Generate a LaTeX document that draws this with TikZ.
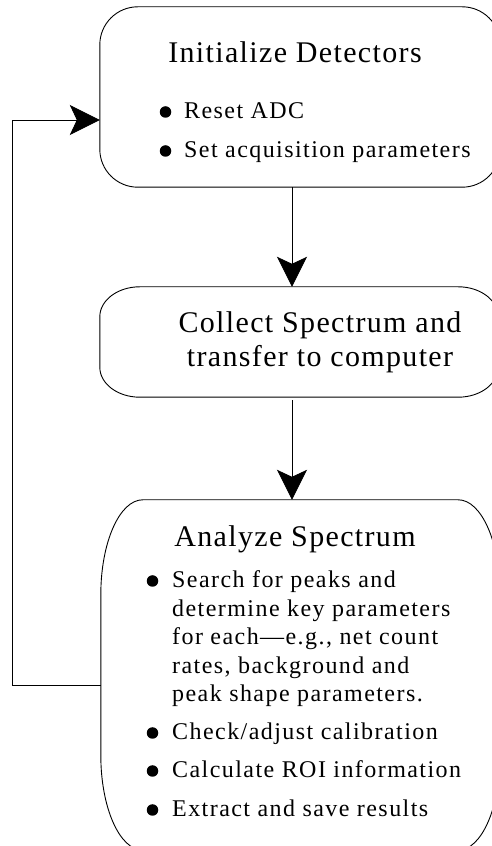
\documentclass[tikz,border=0pt]{standalone}
\usepackage{fontspec}
\setmainfont{Liberation Serif}
\newfontfamily\titlefont[LetterSpace=4.5]{Liberation Serif}
\newfontfamily\bodyfont[LetterSpace=6]{Liberation Serif}
\usetikzlibrary{arrows.meta}
\tikzset{
  boxline/.style={line width=0.9pt, black},
  flow/.style={line width=0.9pt, -{Stealth[length=30pt,width=30pt,inset=7pt]}},
  boxarea/.style={draw=none, rectangle, inner sep=0pt},
  titletext/.style={font=\titlefont\fontsize{30}{34}\selectfont, inner sep=0pt, anchor=base},
  itemtext/.style={font=\bodyfont\fontsize{24}{28.5}\selectfont, inner sep=0pt, anchor=base west, align=left},
  bulletdot/.style={circle, fill=black, inner sep=0pt, minimum size=11.5pt}
}
\newcommand\eboxoutline[3]{%
  \draw[boxline] ([xshift=#2]#1.north west) -- ([xshift=-#2]#1.north east)
    arc[start angle=90,end angle=0,x radius=#2,y radius=#3]
    -- ([yshift=#3]#1.south east)
    arc[start angle=0,end angle=-90,x radius=#2,y radius=#3]
    -- ([xshift=#2]#1.south west)
    arc[start angle=270,end angle=180,x radius=#2,y radius=#3]
    -- ([yshift=-#3]#1.north west)
    arc[start angle=180,end angle=90,x radius=#2,y radius=#3] -- cycle;}
\begin{document}
\begin{tikzpicture}[x=1pt,y=1pt]
\useasboundingbox (0,0) rectangle (491,846);
\fill[white] (0,0) rectangle (491,846);
% boxes
\node[boxarea, minimum width=400pt, minimum height=180pt] (b1) at (300,749) {};
\node[boxarea, minimum width=398pt, minimum height=110pt] (b2) at (299,504) {};
\node[boxarea, minimum width=399pt, minimum height=350pt] (b3) at (300.5,171) {};
\eboxoutline{b1}{38pt}{38pt}
\eboxoutline{b2}{40pt}{30pt}
\eboxoutline{b3}{42pt}{95pt}
% box 1 text
\node[titletext] (t1) at (295,783) {Initialize Detectors};
\node[bulletdot] (d11) at (165.5,734) {};
\node[itemtext] (i11) at (184,727) {Reset ADC};
\node[bulletdot] (d12) at (165.5,695) {};
\node[itemtext] (i12) at (184,688) {Set acquisition parameters};
% box 2 text
\node[titletext, align=center] (t2) at (320,479) {Collect Spectrum and\\transfer to computer};
% box 3 text
\node[titletext] (t3) at (295,299) {Analyze Spectrum};
\node[bulletdot] (d31) at (152.5,265) {};
\node[itemtext] (i31) at (172,144) {Search for peaks and\\determine key parameters\\for each—e.g., net count\\rates, background and\\peak shape parameters.};
\node[bulletdot] (d32) at (152.5,113) {};
\node[itemtext] (i32) at (172,106) {Check/adjust calibration};
\node[bulletdot] (d33) at (152.5,75) {};
\node[itemtext] (i33) at (172,68) {Calculate ROI information};
\node[bulletdot] (d34) at (152.5,36) {};
\node[itemtext] (i34) at (172,29) {Extract and save results};
% connectors
\draw[flow] ([xshift=-8pt]b1.south) -- ([xshift=-7pt]b2.north);
\draw[flow] ([xshift=-7pt,yshift=-3pt]b2.south) -- ([xshift=-8.5pt]b3.north);
\coordinate (c1) at ([yshift=-10pt]b3.west -| 12,0);
\coordinate (c2) at ([yshift=-23pt]b1.west -| 12,0);
\draw[flow] ([yshift=-10pt]b3.west) -- (c1) -- (c2) -- ([yshift=-23pt]b1.west);
\end{tikzpicture}
\end{document}
